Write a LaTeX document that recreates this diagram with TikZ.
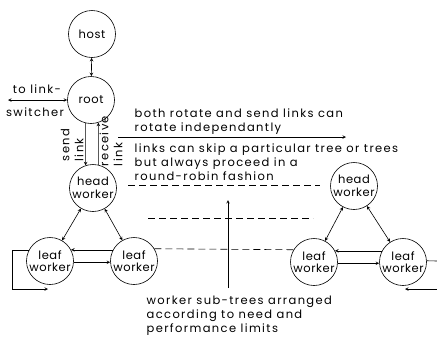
\documentclass[tikz,border=0pt]{standalone}
\usepackage{fontspec}
\setmainfont[LetterSpace=12]{Poppins}
\usepackage{tikz}
\usetikzlibrary{arrows.meta, positioning, calc}

\begin{document}
\begin{tikzpicture}[x=1pt, y=-1pt, >=stealth, semithick, font=\fontsize{11.5}{14}\selectfont,
        proc/.style={draw, circle, minimum size=47pt, inner sep=0pt, align=center, font=\fontsize{11.5}{12.5}\selectfont\addfontfeature{LetterSpace=5}},
        gap/.style={dash pattern=on 7pt off 4pt}]
    \useasboundingbox (0,0) rectangle (437,338);

    % left tree
    \node[proc] (host) at (92,34) {host};
    \node[proc] (root) at (91,100) {root};
    \node[proc] (head) at (93,188) {head\\worker};
    \node[proc] (leafa) at (50,261) {leaf\\worker};
    \node[proc] (leafb) at (134,261) {leaf\\worker};

    % right tree
    \node[proc] (headr) at (354,186) {head\\worker};
    \node[proc] (leafc) at (314,262) {leaf\\worker};
    \node[proc] (leafd) at (403,262) {leaf\\worker};

    \coordinate (sw) at (8,100);
    \node (tolink) at (37,89) {to link-};
    \node (switcher) at (35,112) {switcher};

    \draw[<->] (host) -- (root);
    \draw[<->] (root) -- (sw);

    % send and receive links
    \draw[->] (root.257) -- (head.108);
    \draw[->] (head.77) -- (root.288);
    \node[rotate=90, align=left] (sendlbl) at (72,145) {send\\link};
    \node[rotate=90, align=left] (recvlbl) at (111,141) {receive\\link};

    \node[anchor=west, align=left] (rot) at (131,122) {both rotate and send links can\\rotate independantly};
    \coordinate (rotstart) at (118,137);
    \coordinate (rotend) at (346,137);
    \draw[->] (rotstart) -- (rotend);
    \node[anchor=west, align=left] (skip) at (131,162) {links can skip a particular tree or trees\\but always proceed in a\\round-robin fashion};

    \draw[<->] (head) -- (leafa);
    \draw[<->] (head) -- (leafb);
    \draw[<->] (headr) -- (leafc);
    \draw[<->] (headr) -- (leafd);

    \draw[->] (leafb.152) -- (leafa.28);
    \draw[->] (leafa.-3) -- (leafb.183);
    \draw[->] (leafd.152) -- (leafc.28);
    \draw[->] (leafc.-3) -- (leafd.183);

    % loop back out of the first leaf
    \coordinate (loopc) at (12,289);
    \coordinate (loopend) at (48,289);
    \draw[->] (leafa.152) -| (loopc) -- (loopend);

    \coordinate (outr) at (437,261);
    \draw (leafd.3) -- (outr);
    \coordinate (inr) at (437,289);
    \coordinate (inrend) at (405,289);
    \draw[->] (inr) -- (inrend);

    % dashed tree levels
    \coordinate (lva) at (128,185);
    \coordinate (lvb) at (320,185);
    \coordinate (lvc) at (148,218);
    \coordinate (lvd) at (313,218);
    \draw[gap] (lva) -- (lvb);
    \draw[gap] (lvc) -- (lvd);
    \draw[gap] (leafb.31) -- (leafc.149);

    \coordinate (upbot) at (228,288);
    \coordinate (uptop) at (228,200);
    \draw[->] (upbot) -- (uptop);
    \node[anchor=north west, align=left] (trees) at (143,292) {worker sub-trees arranged\\according to need and\\performance limits};
\end{tikzpicture}
\end{document}
